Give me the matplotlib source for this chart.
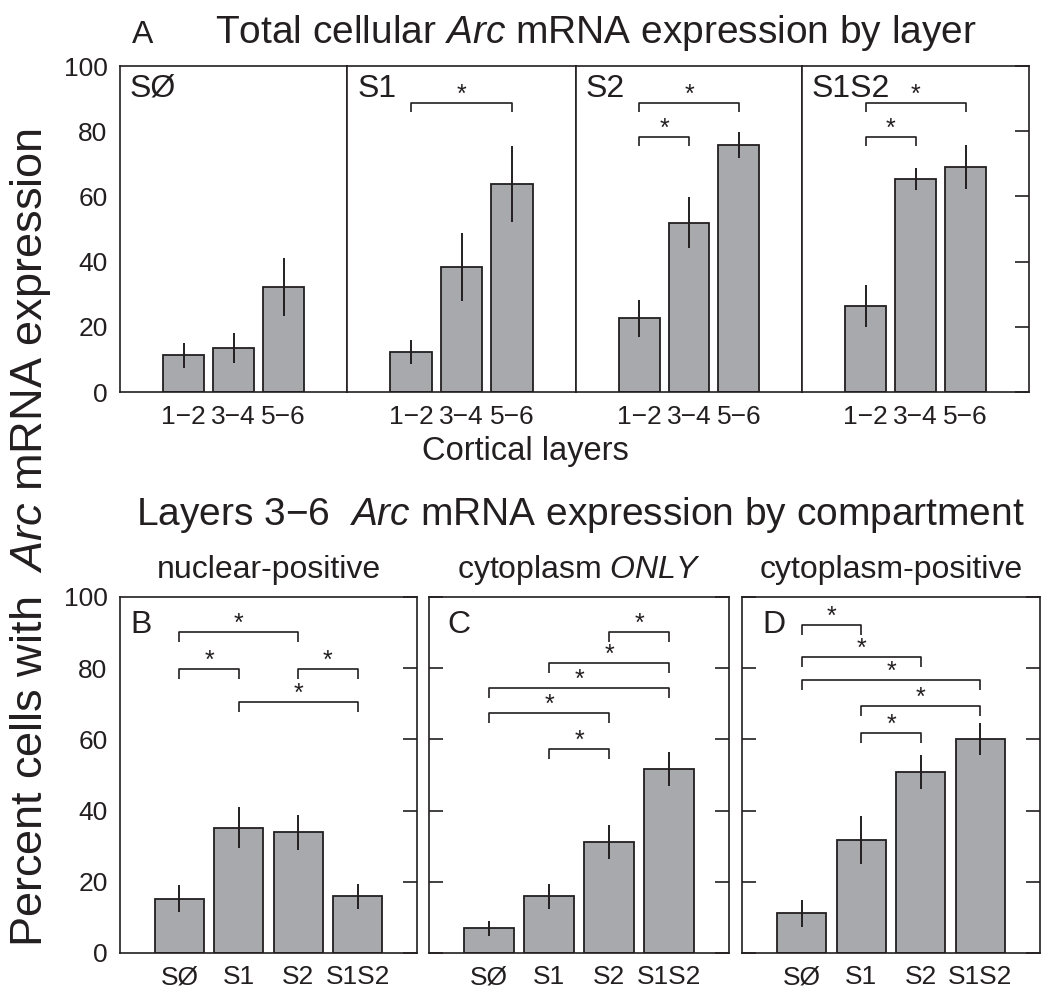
import matplotlib
matplotlib.use("Agg")
import matplotlib.pyplot as plt
import numpy as np

plt.rcParams['font.family'] = ['Liberation Sans', 'DejaVu Sans']
plt.rcParams['mathtext.fontset'] = 'custom'
plt.rcParams['mathtext.rm'] = 'Liberation Sans'
plt.rcParams['mathtext.it'] = 'Liberation Sans:italic'
plt.rcParams['text.color'] = '#231f20'

# ---- data ----
groups = ['S\u00d8', 'S1', 'S2', 'S1S2']
layers = ['1\u22122', '3\u22124', '5\u22126']

# panel A: percent cells with Arc by cortical layer, one row per group
layer_means = [[11.2, 13.5, 32.2],
               [12.2, 38.3, 63.9],
               [22.6, 51.9, 75.8],
               [26.4, 65.3, 69.1]]
layer_err = [[3.8, 4.5, 9.0],
             [3.7, 10.5, 11.7],
             [5.6, 7.8, 4.1],
             [6.4, 3.3, 6.7]]
# significance (bar i, bar j, bracket height)
layer_sig = [[],
             [(0, 2, 88.6)],
             [(0, 2, 88.6), (0, 1, 78.3)],
             [(0, 2, 88.6), (0, 1, 78.3)]]

# panels B-D: layers 3-6 by compartment
nuclear = [15.3, 35.2, 33.9, 15.9]
nuclear_err = [3.8, 5.8, 4.9, 3.4]
cyto_only = [6.9, 15.9, 31.1, 51.7]
cyto_only_err = [2.0, 3.4, 4.8, 4.7]
cyto_pos = [11.1, 31.7, 50.9, 60.1]
cyto_pos_err = [3.7, 6.8, 4.7, 4.4]

nuclear_sig = [(0, 2, 90.3), (0, 1, 79.9), (2, 3, 79.9), (1, 3, 70.4)]
cyto_only_sig = [(2, 3, 90.3), (1, 3, 81.4), (0, 3, 74.4), (0, 2, 67.5), (1, 2, 57.2)]
cyto_pos_sig = [(0, 1, 92.2), (0, 2, 83.1), (0, 3, 76.6), (1, 3, 69.4), (1, 2, 61.9)]

BAR = '#a7a9ac'
INK = '#231f20'
W, H = 1050, 998


def px_axes(fig, x0, y0, x1, y1):
    return fig.add_axes([x0 / W, 1 - y1 / H, (x1 - x0) / W, (y1 - y0) / H])


def brackets(ax, xs, sig, drop=2.8):
    for i, j, y in sig:
        ax.plot([xs[i], xs[i], xs[j], xs[j]], [y - drop, y, y, y - drop],
                color=INK, lw=1.2, solid_capstyle='butt')
        ax.text((xs[i] + xs[j]) / 2, y + 0.3, '*', ha='center', va='baseline',
                fontsize=18, color=INK)


def bars(ax, xs, vals, errs):
    ax.bar(xs, vals, width=0.82, color=BAR, edgecolor=INK, linewidth=1.3, zorder=2)
    ax.errorbar(xs, vals, yerr=errs, fmt='none', ecolor=INK, elinewidth=1.4,
                capsize=0, zorder=3)


def style(ax, first, right_ticks=True):
    ax.set_ylim(0, 100)
    ax.set_yticks([0, 20, 40, 60, 80, 100])
    ax.tick_params(axis='y', direction='in', length=10, width=1.2,
                   left=not first, right=right_ticks,
                   labelleft=first, labelsize=19, pad=9, colors=INK)
    ax.tick_params(axis='x', length=0, labelsize=19, pad=9, colors=INK)
    for s in ax.spines.values():
        s.set_linewidth(1.2)
        s.set_color(INK)


fig = plt.figure(figsize=(10.5, 9.98), dpi=100)

# ---- panel A ----
xs3 = np.arange(1, 4)
edges = [120, 347, 576, 802, 1029]
for k in range(4):
    ax = px_axes(fig, edges[k], 66, edges[k + 1], 392)
    bars(ax, xs3, layer_means[k], layer_err[k])
    brackets(ax, xs3, layer_sig[k])
    ax.set_xlim(2 - 2.27, 2 + 2.27)
    ax.set_xticks(xs3)
    ax.set_xticklabels(layers)
    style(ax, first=(k == 0), right_ticks=(k == 3))
    if k > 0:
        ax.tick_params(axis='y', left=False)
    ax.text(0.044, 0.905, groups[k], transform=ax.transAxes, fontsize=23,
            ha='left', va='baseline')

fig.text(132 / W, 1 - 43 / H, 'A', fontsize=23, ha='left', va='baseline')
fig.text(596 / W, 1 - 43 / H, r'Total cellular $\mathit{Arc}$ mRNA expression by layer',
         fontsize=28, ha='center', va='baseline')
fig.text(525 / W, 1 - 460 / H, 'Cortical layers', fontsize=23.5,
         ha='center', va='baseline')

# ---- panels B-D ----
xs4 = np.arange(1, 5)
bottom = [(120, 417, nuclear, nuclear_err, nuclear_sig, 'B', 0.034, 'nuclear-positive'),
          (429, 729, cyto_only, cyto_only_err, cyto_only_sig, 'C', 0.06,
           r'cytoplasm $\mathit{ONLY}$'),
          (742, 1040, cyto_pos, cyto_pos_err, cyto_pos_sig, 'D', 0.07, 'cytoplasm-positive')]
for k, (x0, x1, vals, errs, sig, lab, lx, sub) in enumerate(bottom):
    ax = px_axes(fig, x0, 597, x1, 953)
    bars(ax, xs4, vals, errs)
    brackets(ax, xs4, sig)
    ax.set_xlim(0, 5)
    ax.set_xticks(xs4)
    ax.set_xticklabels(groups)
    style(ax, first=(k == 0))
    ax.text(lx, 0.90, lab, transform=ax.transAxes, fontsize=23,
            ha='left', va='baseline')
    ax.set_title(sub, fontsize=23, pad=14, color=INK)

fig.text(580 / W, 1 - 525 / H,
         'Layers 3\u22126  $\\mathit{Arc}$ mRNA expression by compartment',
         fontsize=28, ha='center', va='baseline')

fig.text(31 / W, 1 - 537 / H, r'Percent cells with  $\mathit{Arc}$ mRNA expression',
         fontsize=32.5, rotation=90, ha='center', va='center')

fig.savefig('out.png', dpi=100)
